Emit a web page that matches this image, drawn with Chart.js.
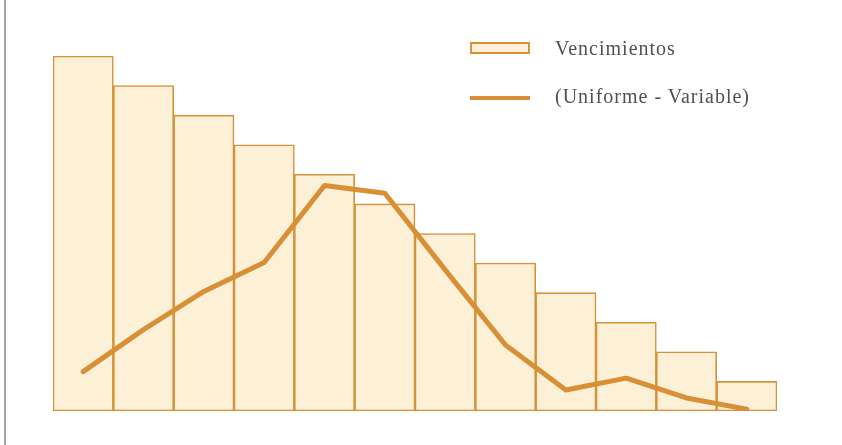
<!DOCTYPE html>
<html>
<head>
<meta charset="utf-8">
<script src="https://cdn.jsdelivr.net/npm/chart.js@4/dist/chart.umd.min.js"></script>
<style>
  html, body { margin: 0; padding: 0; background: #ffffff; }
  #wrap { position: relative; width: 842px; height: 445px; overflow: hidden; }
  #frame { position: absolute; left: 4px; top: 0; width: 1.5px; height: 445px; background: #a3a3a3; }
  #legend { position: absolute; left: 470px; top: 30px; font-family: "Liberation Serif", "DejaVu Serif", serif;
            font-size: 20px; letter-spacing: 1px; color: #505050; }
  .item { position: absolute; left: 0; height: 24px; white-space: nowrap; }
  .swatch { position: absolute; left: 0; width: 60px; box-sizing: border-box; }
  .label { position: absolute; left: 85px; top: 0; line-height: 24px; }
</style>
</head>
<body>
<div id="wrap">
  <canvas id="c" width="842" height="445"></canvas>
  <div id="frame"></div>
  <div id="legend"></div>
</div>
<script>
// Periods of the repayment schedule
const periods = ['1', '2', '3', '4', '5', '6', '7', '8', '9', '10', '11', '12'];
// Maturities per period
const vencimientos = [12, 11, 10, 9, 8, 7, 6, 5, 4, 3, 2, 1];
// Difference between uniform and variable schedules
const diferencia = [1.33, 2.75, 4.04, 5.02, 7.62, 7.36, 4.77, 2.23, 0.71, 1.11, 0.44, 0.06];
const seriesLabels = ['Vencimientos', '(Uniforme - Variable)'];

const orange = '#d6923a';
const lineOrange = '#d98f36';
const beige = '#fcf1d6';

const chart = new Chart(document.getElementById('c'), {
  data: {
    labels: periods,
    datasets: [
      {
        type: 'bar',
        label: seriesLabels[0],
        data: vencimientos,
        backgroundColor: beige,
        borderColor: orange,
        borderWidth: 1.6,
        borderSkipped: false,
        categoryPercentage: 1,
        barPercentage: 1,
        order: 2
      },
      {
        type: 'line',
        label: seriesLabels[1],
        data: diferencia,
        borderColor: lineOrange,
        borderWidth: 5,
        pointRadius: 0,
        tension: 0,
        borderCapStyle: 'round',
        borderJoinStyle: 'round',
        order: 1
      }
    ]
  },
  options: {
    responsive: false,
    animation: false,
    layout: { padding: { left: 53, right: 65, top: 56, bottom: 34 } },
    scales: {
      x: { display: false },
      y: { display: false, min: 0, max: 12 }
    },
    plugins: {
      legend: { display: false },
      tooltip: { enabled: false }
    }
  }
});

// Legend built from the chart's own datasets
const legend = document.getElementById('legend');
chart.data.datasets.forEach((ds, i) => {
  const item = document.createElement('div');
  item.className = 'item';
  item.style.top = (i * 48) + 'px';
  const sw = document.createElement('div');
  sw.className = 'swatch';
  if (ds.type === 'bar') {
    sw.style.top = '12px';
    sw.style.height = '12px';
    sw.style.background = ds.backgroundColor;
    sw.style.border = '2px solid ' + ds.borderColor;
  } else {
    sw.style.top = '18px';
    sw.style.height = '4px';
    sw.style.background = ds.borderColor;
  }
  const lb = document.createElement('span');
  lb.className = 'label';
  lb.style.top = '6px';
  lb.textContent = ds.label;
  item.appendChild(sw);
  item.appendChild(lb);
  legend.appendChild(item);
});
</script>
</body>
</html>
